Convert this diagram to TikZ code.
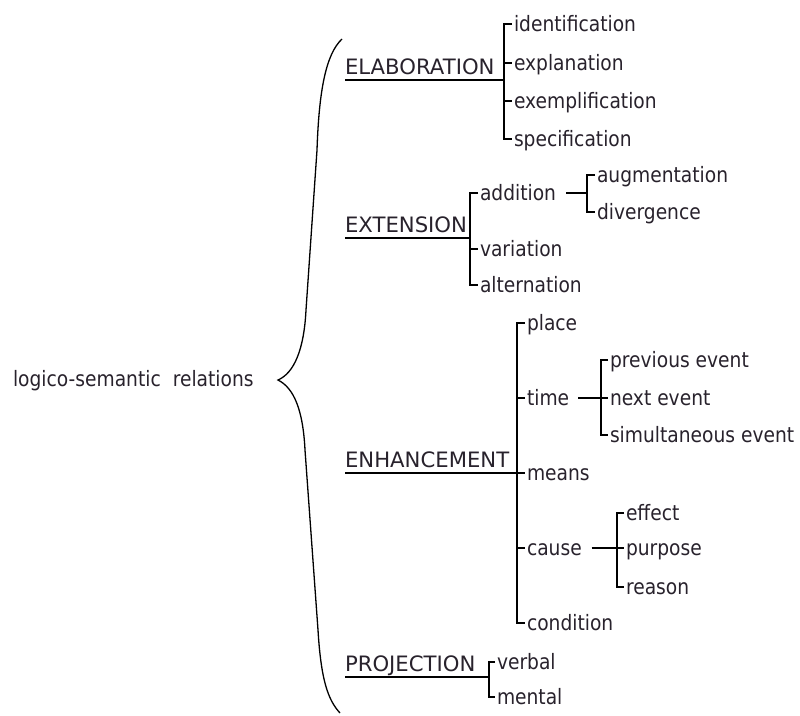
\documentclass[tikz,border=0pt]{standalone}
\usepackage{fontspec}
\setmainfont{DejaVu Sans}[FakeStretch=0.88]
\newfontfamily\capsfont{DejaVu Sans}
\definecolor{txt}{RGB}{40,34,44}
\begin{document}
\begin{tikzpicture}[x=1pt,y=-1pt,
  every node/.style={inner sep=0pt, outer sep=0pt, font=\fontsize{21.2}{24}\selectfont, text=txt},
  leaf/.style={anchor=west, text height=18.5pt, text depth=4.5pt},
  head/.style={anchor=base west, font=\capsfont\fontsize{21.2}{24}\selectfont},
  ln/.style={draw=black, line width=1.4pt},
  brace/.style={draw=black, line width=1.3pt}]
\useasboundingbox (0,0) rectangle (800,715);

% root and brace
\node[leaf] (root) at (13,379) {logico-semantic\hspace{12pt}relations};
\coordinate (tip) at (278,380);
\draw[brace] (342,39) .. controls (326,54) and (319,90) .. (317,150)
  -- (306,310) .. controls (304,350) and (294,373) .. (tip)
  .. controls (294,388) and (303,410) .. (305,450)
  -- (318,630) .. controls (321,680) and (328,700) .. (340,713);

% ELABORATION
\node[head] (ela) at (345,74.5) {ELABORATION};
\coordinate (ela-u) at ([yshift=-5.5pt]ela.base west);
\coordinate (ela-b) at (504,80);
\node[leaf] (idf) at (514,24) {identification};
\node[leaf] (exp) at (514,63) {explanation};
\node[leaf] (exm) at (514,101) {exemplification};
\node[leaf] (spc) at (514,139) {specification};
\draw[ln] (ela-u) -- (ela-b);
\draw[ln] ([xshift=-2pt]idf.west) -- (idf.west -| ela-b) -- (spc.west -| ela-b) -- ([xshift=-2pt]spc.west);
\foreach \n in {exp,exm} \draw[ln] (\n.west -| ela-b) -- ([xshift=-2pt]\n.west);

% EXTENSION
\node[head] (ext) at (345,232.5) {EXTENSION};
\coordinate (ext-u) at ([yshift=-5.5pt]ext.base west);
\coordinate (ext-b) at (470,238);
\node[leaf] (add) at (480,193) {addition};
\node[leaf] (var) at (480,249) {variation};
\node[leaf] (alt) at (480,285) {alternation};
\draw[ln] (ext-u) -- (ext-b);
\draw[ln] ([xshift=-2pt]add.west) -- (add.west -| ext-b) -- (alt.west -| ext-b) -- ([xshift=-2pt]alt.west);
\draw[ln] (var.west -| ext-b) -- ([xshift=-2pt]var.west);
\coordinate (add-b) at (587,193);
\node[leaf] (aug) at (597,175) {augmentation};
\node[leaf] (div) at (597,212) {divergence};
\draw[ln] ([xshift=10pt]add.east) -- (add-b);
\draw[ln] ([xshift=-2pt]aug.west) -- (aug.west -| add-b) -- (div.west -| add-b) -- ([xshift=-2pt]div.west);

% ENHANCEMENT
\node[head] (enh) at (345,467.5) {ENHANCEMENT};
\coordinate (enh-u) at ([yshift=-5.5pt]enh.base west);
\coordinate (enh-b) at (517,473);
\node[leaf] (plc) at (527,323) {place};
\node[leaf] (tim) at (527,398) {time};
\node[leaf] (mea) at (527,473) {means};
\node[leaf] (cau) at (527,548) {cause};
\node[leaf] (con) at (527,623) {condition};
\draw[ln] (enh-u) -- (enh-b);
\draw[ln] ([xshift=-2pt]plc.west) -- (plc.west -| enh-b) -- (con.west -| enh-b) -- ([xshift=-2pt]con.west);
\foreach \n in {tim,mea,cau} \draw[ln] (\n.west -| enh-b) -- ([xshift=-2pt]\n.west);
% time
\coordinate (tim-b) at (601,398);
\node[leaf] (prv) at (610,360) {previous event};
\node[leaf] (nxt) at (610,398) {next event};
\node[leaf] (sim) at (610,435) {simultaneous event};
\draw[ln] ([xshift=9pt]tim.east) -- (tim-b);
\draw[ln] ([xshift=-2pt]prv.west) -- (prv.west -| tim-b) -- (sim.west -| tim-b) -- ([xshift=-2pt]sim.west);
\draw[ln] (nxt.west -| tim-b) -- ([xshift=-2pt]nxt.west);
% cause
\coordinate (cau-b) at (617,548);
\node[leaf] (eff) at (626,513) {effect};
\node[leaf] (pur) at (626,548) {purpose};
\node[leaf] (rea) at (626,587) {reason};
\draw[ln] ([xshift=10pt]cau.east) -- (cau-b);
\draw[ln] ([xshift=-2pt]eff.west) -- (eff.west -| cau-b) -- (rea.west -| cau-b) -- ([xshift=-2pt]rea.west);
\draw[ln] (pur.west -| cau-b) -- ([xshift=-2pt]pur.west);

% PROJECTION
\node[head] (pro) at (345,671.5) {PROJECTION};
\coordinate (pro-u) at ([yshift=-5.5pt]pro.base west);
\coordinate (pro-b) at (489,677);
\node[leaf] (vrb) at (497,662) {verbal};
\node[leaf] (men) at (497,697) {mental};
\draw[ln] (pro-u) -- (pro-b);
\draw[ln] ([xshift=-2pt]vrb.west) -- (vrb.west -| pro-b) -- (men.west -| pro-b) -- ([xshift=-2pt]men.west);
\end{tikzpicture}
\end{document}
